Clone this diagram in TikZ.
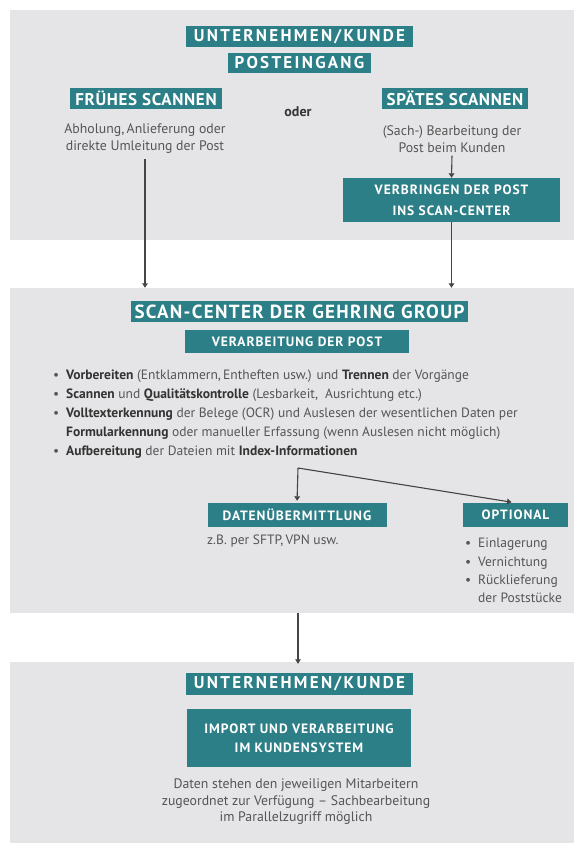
\documentclass[tikz,border=0pt]{standalone}
\usepackage{fontspec}
\setmainfont{PT Sans}
\newfontfamily\capsfont{PT Sans}[LetterSpace=7]
\newfontfamily\capsA{PT Sans}[LetterSpace=13.5]
\newfontfamily\capsB{PT Sans}[LetterSpace=4]
\usetikzlibrary{arrows.meta}
\definecolor{tealbox}{HTML}{2D7F87}
\definecolor{panelgray}{HTML}{E5E5E7}
\definecolor{txt}{HTML}{555555}
\definecolor{txtb}{HTML}{333333}
\definecolor{arr}{HTML}{454545}
\newcommand\blt{\makebox[13pt][l]{\textbullet}}
\newcommand\bt[1]{\textbf{\color{txtb}#1}}
\tikzset{
  panel/.style={fill=panelgray, draw=none, inner sep=0pt, minimum width=564pt},
  tbox/.style={fill=tealbox, text=white, inner sep=0pt, align=center},
  htop/.style={tbox, font=\capsA\bfseries\fontsize{17}{19}\selectfont},
  hbig/.style={tbox, font=\capsB\bfseries\fontsize{17}{19}\selectfont},
  hmid/.style={tbox, font=\capsfont\bfseries\fontsize{13.5}{21}\selectfont},
  body/.style={text=txt, font=\fontsize{13.8}{17}\selectfont, align=center, inner sep=0pt},
  list/.style={text=txt, font=\fontsize{13.5}{19}\selectfont, align=left, inner sep=0pt},
  arrow/.style={draw=arr, line width=1.1pt, -{Triangle[width=5.5pt,length=4.5pt]}},
}
\begin{document}
\begin{tikzpicture}[x=1pt, y=-1pt]
\useasboundingbox[fill=white] (0,0) rectangle (574,843);
% panels
\node[panel, minimum height=230pt] (p1) at (292,125) {};
\node[panel, minimum height=325pt] (p2) at (292,450.5) {};
\node[panel, minimum height=181pt] (p3) at (292,752.5) {};
% panel 1
\node[htop, minimum width=227pt, minimum height=21pt] (uk1) at (299.5,36.5) {UNTERNEHMEN/KUNDE};
\node[htop, minimum width=143pt, minimum height=20pt] (pe) at (299.5,63) {POSTEINGANG};
\node[hbig, minimum width=152pt, minimum height=21pt] (fs) at (146,98.5) {FRÜHES SCANNEN};
\node[hbig, minimum width=146pt, minimum height=21pt] (ss) at (455,98.5) {SPÄTES SCANNEN};
\node[body, font=\bfseries\fontsize{14}{17}\selectfont, text=txtb] (oder) at (298,112) {oder};
\node[body] (abh) at (145,139) {Abholung,\,Anlieferung oder\\direkte Umleitung der Post};
\node[body] (sach) at (452,139) {(Sach-) Bearbeitung der\\Post beim Kunden};
\node[hmid, minimum width=217pt, minimum height=44pt] (verb) at (451.5,200) {VERBRINGEN DER POST\\INS SCAN-CENTER};
% panel 2
\node[tbox, font=\capsfont\bfseries\fontsize{19}{22}\selectfont, minimum width=337pt, minimum height=21pt] (sc) at (299.5,311.5) {SCAN-CENTER DER GEHRING GROUP};
\node[hmid, minimum width=224pt, minimum height=23pt] (vp) at (297,341.5) {VERARBEITUNG DER POST};
\node[list, anchor=north west] (steps) at (53,370) {%
\blt\bt{Vorbereiten} (Entklammern,\,Entheften usw.) und \bt{Trennen} der Vorgänge\\
\blt\bt{Scannen} und \bt{Qualitätskontrolle} (Lesbarkeit,\hspace{7pt}Ausrichtung etc.)\\
\blt\bt{Volltexterkennung} der Belege (OCR) und Auslesen der wesentlichen Daten per\\
\hspace*{13pt}\bt{Formularkennung} oder manueller Erfassung (wenn Auslesen nicht möglich)\\
\blt\bt{Aufbereitung} der Dateien mit \bt{Index-Informationen}};
\coordinate (split) at (298,468);
\node[hmid, minimum width=179pt, minimum height=24pt] (dat) at (297,515) {DATENÜBERMITTLUNG};
\node[hmid, minimum width=105pt, minimum height=24pt] (opt) at (515.5,515) {OPTIONAL};
\node[list, anchor=north west] (sftp) at (207,535) {z.B. per SFTP,\,VPN usw.};
\node[list, anchor=north west, font=\fontsize{13.5}{18.3}\selectfont] (optl) at (465,538) {%
\blt Einlagerung\\
\blt Vernichtung\\
\blt Rücklieferung\\
\hspace*{13pt}der Poststücke};
% panel 3
\node[htop, minimum width=227pt, minimum height=22pt] (uk2) at (299.5,684) {UNTERNEHMEN/KUNDE};
\node[hmid, font=\capsfont\bfseries\fontsize{13.5}{19}\selectfont, minimum width=224pt, minimum height=58pt] (imp) at (299,738) {IMPORT UND VERARBEITUNG\\IM KUNDENSYSTEM};
\node[body, font=\fontsize{13.8}{16.5}\selectfont] (dat3) at (296,802) {Daten stehen den jeweiligen Mitarbeitern\\zugeordnet zur Verfügung -- Sachbearbeitung\\im Parallelzugriff möglich};
% connectors
\draw[arrow] ([yshift=-5pt]abh.south) -- (abh.south |- p2.north);
\draw[arrow] ([yshift=-3pt]sach.south) -- (verb.north);
\draw[arrow] (verb.south) -- (verb.south |- p2.north);
\draw[arrow, shorten >=2pt] (split) -- (dat.north);
\draw[arrow, shorten >=4pt] (split) -- (opt.north);
\draw[arrow] (split |- p2.south) -- ([yshift=-2pt]split |- p3.north);
\end{tikzpicture}
\end{document}
